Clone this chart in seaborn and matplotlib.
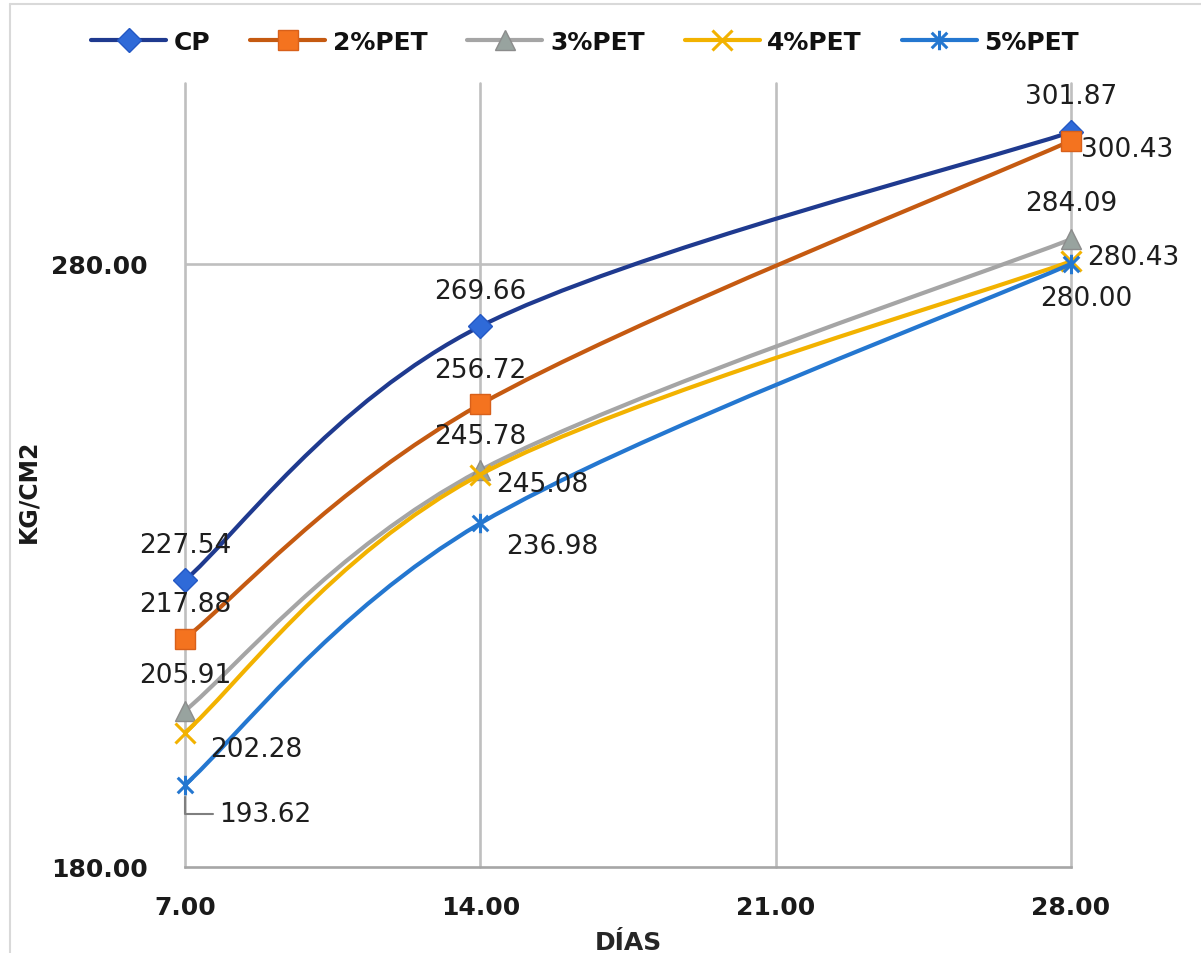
import numpy as np
import matplotlib
matplotlib.use("Agg")
import matplotlib.pyplot as plt
import seaborn as sns
from matplotlib.path import Path
from matplotlib.patches import PathPatch
from matplotlib.lines import Line2D

# ---------------- data ----------------
dias = [7.0, 14.0, 28.0]
series_names = ["CP", "2%PET", "3%PET", "4%PET", "5%PET"]
cp = [227.54, 269.66, 301.87]
pet2 = [217.88, 256.72, 300.43]
pet3 = [205.91, 245.78, 284.09]
pet4 = [202.28, 245.08, 280.43]
pet5 = [193.62, 236.98, 280.00]
x_ticks = [7.0, 14.0, 21.0, 28.0]
y_ticks = [180.0, 280.0]
x_title = "DÍAS"
y_title = "KG/CM2"

values = [cp, pet2, pet3, pet4, pet5]

# ---------------- style ----------------
sns.set_theme(style="white")
plt.rcParams["font.family"] = ["DejaVu Sans"]

W, H = 1201, 954
fig = plt.figure(figsize=(W / 100, H / 100), dpi=100)
ax = fig.add_axes([185 / W, 1 - 868 / H, (1071 - 185) / W, (868 - 84) / H])
ax.set_xlim(7, 28)
ax.set_ylim(180, 310)

line_colors = ["#1F3A8F", "#C55A11", "#A5A5A5", "#F2B200", "#2477D0"]
face_colors = ["#2F6AD8", "#F4731F", "#98A39F", "#F2B200", "#2477D0"]
edge_colors = ["#2458C4", "#D8601A", "#8C8C8C", "#F2B200", "#2477D0"]

asterisk = Path([(-1, -1), (1, 1), (-1, 1), (1, -1), (0, -1.25), (0, 1.25)],
                [Path.MOVETO, Path.LINETO, Path.MOVETO, Path.LINETO, Path.MOVETO, Path.LINETO])
markers = ["D", "s", "^", "x", asterisk]
msizes = [12, 15, 15, 14, 14]
mews = [1, 1, 1, 2.2, 2.2]

# label placement: (dx px, dy px, ha) for each point
label_pos = [
    [(0, 35, "center"), (0, 35, "center"), (0, 36, "center")],
    [(0, 35, "center"), (0, 34, "center"), (10, -8, "left")],
    [(0, 36, "center"), (0, 34, "center"), (0, 36, "center")],
    [(25, -16, "left"), (16, -9, "left"), (16, 4, "left")],
    [(34, -29, "left"), (26, -23, "left"), (15, -34, "center")],
]


def smooth_path(xs, ys):
    pts = np.column_stack([xs, ys]).astype(float)
    n = len(pts)
    verts = [pts[0]]
    codes = [Path.MOVETO]
    for i in range(n - 1):
        p0 = pts[i - 1] if i > 0 else pts[i]
        p1 = pts[i]
        p2 = pts[i + 1]
        p3 = pts[i + 2] if i + 2 < n else pts[i + 1]
        c1 = p1 + (p2 - p0) / 6.0
        c2 = p2 - (p3 - p1) / 6.0
        verts += [c1, c2, p2]
        codes += [Path.CURVE4] * 3
    return Path(verts, codes)


# grid
grid_c = "#BFBFBF"
for xt in x_ticks:
    ax.axvline(xt, color=grid_c, lw=1.9, zorder=0, clip_on=False)
ax.axhline(280, color=grid_c, lw=1.9, zorder=0)
for s in ["top", "right", "left"]:
    ax.spines[s].set_visible(False)
ax.spines["bottom"].set_color("#A6A6A6")
ax.spines["bottom"].set_linewidth(1.9)

handles = []
for k, (name, vals) in enumerate(zip(series_names, values)):
    z = 3 + k
    patch = PathPatch(smooth_path(dias, vals), facecolor="none",
                      edgecolor=line_colors[k], lw=3.0, zorder=z,
                      capstyle="round", joinstyle="round", clip_on=False)
    ax.add_patch(patch)
    sns.lineplot(x=dias, y=vals, ax=ax, linestyle="", marker=markers[k],
                 markersize=msizes[k], markerfacecolor=face_colors[k],
                 markeredgecolor=edge_colors[k], markeredgewidth=mews[k],
                 color=edge_colors[k], legend=False, zorder=z + 0.5,
                 clip_on=False)
    handles.append(Line2D([0], [0], color=line_colors[k], lw=3.0,
                          marker=markers[k], markersize=msizes[k],
                          markerfacecolor=face_colors[k],
                          markeredgecolor=edge_colors[k],
                          markeredgewidth=mews[k]))

# data labels
for k, vals in enumerate(values):
    for j, (xv, yv) in enumerate(zip(dias, vals)):
        dx, dy, ha = label_pos[k][j]
        kw = {}
        if k == 4 and j == 0:
            kw["arrowprops"] = dict(arrowstyle="-", color="#7F7F7F", lw=1.5,
                                    shrinkA=2, shrinkB=9, relpos=(0, 0.5),
                                    connectionstyle="angle,angleA=180,angleB=90,rad=0")
        ax.annotate(f"{yv:.2f}", xy=(xv, yv), xytext=(dx, dy),
                    textcoords="offset pixels", ha=ha, va="center",
                    fontsize=19, color="#1E1E1E", zorder=20,
                    annotation_clip=False, **kw)

# ticks
ax.set_xticks(x_ticks)
ax.set_xticklabels([f"{v:.2f}" for v in x_ticks])
ax.set_yticks(y_ticks)
ax.set_yticklabels([f"{v:.2f}" for v in y_ticks])
ax.tick_params(axis="x", length=0, pad=20, labelsize=18, labelcolor="#1A1A1A")
ax.tick_params(axis="y", length=0, pad=27, labelsize=18, labelcolor="#1A1A1A")
for t in ax.get_xticklabels() + ax.get_yticklabels():
    t.set_fontweight("bold")

ax.set_xlabel(x_title, fontsize=18, fontweight="bold", color="#262626", labelpad=8)
ax.set_ylabel(y_title, fontsize=17, fontweight="bold", color="#1A1A1A")
ax.yaxis.set_label_coords((40 - 185) / 886, 1 - (491 - 84) / 784)

leg = fig.legend(handles, series_names, loc="center", ncol=5,
                 bbox_to_anchor=(585 / W, 1 - 43 / H), frameon=False,
                 prop={"size": 18, "weight": "bold"}, handlelength=3.0,
                 handletextpad=0.3, columnspacing=1.6)
for t in leg.get_texts():
    t.set_color("#111111")

# chart area border (left and top)
fig.add_artist(Line2D([10 / W, 10 / W], [0, 1 - 5 / H], transform=fig.transFigure,
                      color="#D9D9D9", lw=1.5))
fig.add_artist(Line2D([10 / W, 1], [1 - 5 / H, 1 - 5 / H], transform=fig.transFigure,
                      color="#D9D9D9", lw=1.5))

fig.savefig("out.png", dpi=100)
